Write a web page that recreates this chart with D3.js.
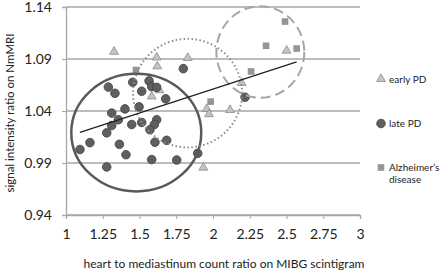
<!DOCTYPE html>
<html>
<head>
<meta charset="utf-8">
<script src="https://cdn.jsdelivr.net/npm/d3@7"></script>
<style>
  body { margin: 0; background: #fff; }
  text { font-family: Lato, "Open Sans", sans-serif; fill: #222; }
</style>
</head>
<body>
<div id="chart"></div>
<script>
// values
const xTicks = [1, 1.25, 1.5, 1.75, 2, 2.25, 2.5, 2.75, 3];
const yTicks = [0.94, 0.99, 1.04, 1.09, 1.14];

const earlyPD = [
  [1.327, 1.097], [1.617, 1.0915], [1.621, 1.083], [1.828, 1.091],
  [1.635, 1.060], [1.583, 1.054], [1.934, 0.9856], [2.195, 1.067],
  [1.957, 1.042], [1.973, 1.037], [2.116, 1.041], [2.501, 1.098]
];

const latePD = [
  [1.288, 1.063], [1.333, 1.057], [1.454, 1.0676], [1.565, 1.069],
  [1.583, 1.0634], [1.617, 1.0627], [1.515, 1.059], [1.678, 1.0517],
  [1.311, 1.038], [1.401, 1.042], [1.497, 1.044], [1.356, 1.0316],
  [1.311, 1.026], [1.447, 1.027], [1.515, 1.029], [1.617, 1.0316],
  [1.601, 1.027], [1.571, 1.022], [1.277, 1.019], [1.095, 1.003],
  [1.163, 1.0096], [1.363, 1.008], [1.408, 0.998], [1.605, 1.010],
  [1.685, 1.0118], [1.277, 0.9862], [1.583, 0.9933], [1.753, 0.9929],
  [1.896, 0.9993], [1.798, 1.0807], [2.218, 1.0532]
];

const alzheimer = [
  [1.476, 1.0794], [1.984, 1.049], [2.259, 1.078],
  [2.361, 1.1027], [2.569, 1.100], [2.490, 1.126]
];

// regression line: y = a + b*x over the x range
const trendX = [1.095, 2.569];
const trendCoef = { a: 0.9689, b: 0.0461 };

// group ellipses: centre and radii in data units
const groupEllipses = [
  { cx: 1.478, cy: 1.0192, rx: 0.442, ry: 0.0565, style: "solid" },
  { cx: 1.827, cy: 1.0572, rx: 0.371, ry: 0.0522, style: "dotted" },
  { cx: 2.322, cy: 1.0967, rx: 0.299, ry: 0.044, style: "dashed" }
];

const width = 440, height = 273;
const margin = { top: 7, right: 80, bottom: 58, left: 66 };
const innerW = width - margin.left - margin.right;
const innerH = height - margin.top - margin.bottom;

const svg = d3.select("#chart").append("svg")
  .attr("width", width)
  .attr("height", height);

const g = svg.append("g")
  .attr("transform", `translate(${margin.left},${margin.top})`);

const x = d3.scaleLinear().domain([1, 3]).range([0, innerW]);
const y = d3.scaleLinear().domain([0.94, 1.14]).range([innerH, 0]);

// gridlines
g.selectAll(".grid")
  .data(yTicks)
  .join("line")
  .attr("class", "grid")
  .attr("x1", 0).attr("x2", innerW)
  .attr("y1", d => y(d)).attr("y2", d => y(d))
  .attr("stroke", "#a6a6a6")
  .attr("stroke-width", 1.3);

// y axis
const yAxis = g.append("g")
  .call(d3.axisLeft(y).tickValues(yTicks).tickSize(4).tickPadding(10)
    .tickFormat(d3.format(".2f")));
yAxis.select(".domain").attr("stroke", "#a6a6a6").attr("stroke-width", 1.3);
yAxis.selectAll(".tick line").attr("stroke", "#a6a6a6");
yAxis.selectAll("text").attr("font-size", 14).attr("fill", "#222");

// x axis
const xAxis = g.append("g")
  .attr("transform", `translate(0,${innerH})`)
  .call(d3.axisBottom(x).tickValues(xTicks).tickSize(4).tickPadding(10)
    .tickFormat(d => d3.format("")(d)));
xAxis.select(".domain").attr("stroke", "#a6a6a6").attr("stroke-width", 1.3);
xAxis.selectAll(".tick line").attr("stroke", "#a6a6a6");
xAxis.selectAll("text").attr("font-size", 14).attr("fill", "#222");

// axis titles
svg.append("text")
  .attr("x", 224)
  .attr("y", 268)
  .attr("text-anchor", "middle")
  .attr("font-size", 12)
  .text("heart to mediastinum count ratio on MIBG scintigram");

svg.append("text")
  .attr("transform", "rotate(-90)")
  .attr("x", -113)
  .attr("y", 14)
  .attr("text-anchor", "middle")
  .attr("font-size", 11.5)
  .text("signal intensity ratio on NmMRI");

// markers
const triangle = d3.symbol().type(d3.symbolTriangle).size(34);
const square = d3.symbol().type(d3.symbolSquare).size(44);

g.selectAll(".early")
  .data(earlyPD)
  .join("path")
  .attr("class", "early")
  .attr("d", triangle)
  .attr("transform", d => `translate(${x(d[0])},${y(d[1])})`)
  .attr("fill", "#c4c4c4")
  .attr("stroke", "#8c8c8c")
  .attr("stroke-width", 0.8);

g.selectAll(".late")
  .data(latePD)
  .join("circle")
  .attr("class", "late")
  .attr("cx", d => x(d[0]))
  .attr("cy", d => y(d[1]))
  .attr("r", 4.3)
  .attr("fill", "#5f5f5f")
  .attr("stroke", "#3f3f3f")
  .attr("stroke-width", 0.8);

g.selectAll(".ad")
  .data(alzheimer)
  .join("path")
  .attr("class", "ad")
  .attr("d", square)
  .attr("transform", d => `translate(${x(d[0])},${y(d[1])})`)
  .attr("fill", "#959595");

// ellipses
const dashFor = { solid: null, dotted: "1.5,2.5", dashed: "10,5" };
const strokeFor = { solid: "#595959", dotted: "#8c8c8c", dashed: "#a6a6a6" };
const widthFor = { solid: 2.5, dotted: 2, dashed: 2 };

g.selectAll(".group-ellipse")
  .data(groupEllipses)
  .join("ellipse")
  .attr("class", "group-ellipse")
  .attr("cx", d => x(d.cx))
  .attr("cy", d => y(d.cy))
  .attr("rx", d => x(d.cx + d.rx) - x(d.cx))
  .attr("ry", d => y(d.cy - d.ry) - y(d.cy))
  .attr("fill", "none")
  .attr("stroke", d => strokeFor[d.style])
  .attr("stroke-width", d => widthFor[d.style])
  .attr("stroke-dasharray", d => dashFor[d.style]);

// regression line
g.append("line")
  .attr("x1", x(trendX[0]))
  .attr("y1", y(trendCoef.a + trendCoef.b * trendX[0]))
  .attr("x2", x(trendX[1]))
  .attr("y2", y(trendCoef.a + trendCoef.b * trendX[1]))
  .attr("stroke", "#222")
  .attr("stroke-width", 1.3);

// legend
const legend = svg.append("g").attr("transform", "translate(381,0)");

legend.append("path")
  .attr("d", triangle)
  .attr("transform", "translate(0,79)")
  .attr("fill", "#c4c4c4")
  .attr("stroke", "#8c8c8c")
  .attr("stroke-width", 0.8);
legend.append("text").attr("x", 8).attr("y", 82.5).attr("font-size", 10).text("early PD");

legend.append("circle")
  .attr("cx", 0).attr("cy", 123.5).attr("r", 4.3)
  .attr("fill", "#5f5f5f").attr("stroke", "#3f3f3f").attr("stroke-width", 0.8);
legend.append("text").attr("x", 8).attr("y", 127).attr("font-size", 10).text("late PD");

legend.append("path")
  .attr("d", square)
  .attr("transform", "translate(0,167.5)")
  .attr("fill", "#959595");
legend.append("text").attr("x", 8).attr("y", 171).attr("font-size", 10).text("Alzheimer’s");
legend.append("text").attr("x", 8).attr("y", 183).attr("font-size", 10).text("disease");
</script>
</body>
</html>
